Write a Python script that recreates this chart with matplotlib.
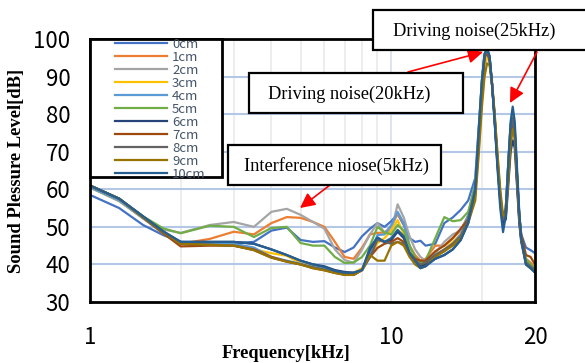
import matplotlib
matplotlib.use("Agg")
import matplotlib.pyplot as plt
from matplotlib.patches import Rectangle

freq = [1.0, 1.25, 1.5, 1.75, 2.0, 2.5, 3.0, 3.5, 4.0, 4.5, 5.0, 5.5, 6.0, 6.5, 7.0,
        7.5, 8.0, 8.5, 9.0, 9.5, 10.0, 10.5, 11.0, 11.5, 12.0, 12.5, 13.0, 14.0, 15.0, 16.0,
        17.0, 18.0, 19.0, 19.5, 20.0, 20.4, 20.8, 21.2, 21.6, 22.0, 22.5, 23.0, 23.5, 24.0, 24.5,
        24.9, 25.3, 25.7, 26.1, 26.6, 27.0, 28.0, 29.0, 30.0]

spl_0cm = [58.5, 55.0, 50.5, 47.8, 46.0, 45.5, 45.7, 46.0, 49.0, 49.8,
           46.5, 46.0, 46.2, 44.5, 43.3, 44.5, 47.5, 49.5, 51.0, 50.0,
           51.5, 53.4, 50.5, 47.0, 46.0, 46.3, 45.0, 45.5, 51.0, 52.5,
           54.5, 57.0, 63.0, 76.0, 89.0, 95.5, 97.0, 95.0, 88.0, 80.0,
           68.0, 58.0, 52.0, 55.0, 68.0, 77.0, 80.0, 76.0, 65.0, 53.0,
           48.0, 44.5, 43.8, 43.0]
spl_1cm = [60.5, 57.0, 52.3, 48.3, 45.5, 46.8, 48.7, 48.0, 51.0, 52.6,
           52.4, 51.3, 50.0, 46.0, 42.0, 41.5, 44.5, 48.0, 48.4, 48.5,
           50.0, 53.5, 51.0, 45.0, 42.5, 41.0, 41.5, 45.0, 45.0, 47.0,
           49.0, 53.0, 61.0, 74.0, 88.0, 95.5, 97.0, 95.5, 88.0, 79.0,
           67.0, 57.0, 51.0, 54.0, 66.0, 75.0, 78.0, 74.0, 63.0, 52.0,
           47.0, 41.5, 40.5, 39.0]
spl_2cm = [60.5, 56.8, 52.3, 49.3, 48.4, 50.5, 51.3, 50.0, 54.0, 54.8,
           53.2, 51.3, 49.5, 44.0, 41.2, 40.4, 44.0, 48.0, 51.0, 48.5,
           49.0, 56.0, 52.5, 47.5, 44.0, 42.0, 41.0, 43.0, 46.0, 48.0,
           49.0, 53.0, 60.0, 75.0, 89.0, 96.0, 97.5, 95.0, 88.0, 80.0,
           68.0, 58.0, 52.0, 55.0, 67.0, 76.0, 79.0, 75.0, 64.0, 52.0,
           47.0, 41.0, 40.0, 38.5]
spl_3cm = [60.5, 57.0, 52.3, 48.3, 45.6, 45.3, 45.0, 44.0, 43.0, 42.3,
           40.3, 39.5, 38.8, 38.0, 37.6, 37.8, 39.0, 42.0, 45.7, 47.0,
           49.0, 51.8, 48.0, 44.0, 41.0, 39.5, 40.0, 42.5, 44.0, 46.0,
           48.0, 52.0, 58.0, 70.0, 84.0, 92.0, 95.0, 94.5, 89.0, 81.0,
           70.0, 59.0, 52.0, 53.0, 64.0, 72.0, 76.0, 74.0, 65.0, 53.0,
           47.0, 40.5, 39.5, 38.5]
spl_4cm = [60.5, 57.0, 52.3, 48.3, 45.8, 45.5, 45.5, 44.5, 42.0, 41.0,
           40.2, 39.3, 38.8, 37.8, 37.3, 37.3, 38.5, 43.0, 47.8, 48.0,
           50.5, 54.0, 51.0, 45.0, 41.5, 40.0, 40.5, 42.5, 43.5, 45.5,
           48.0, 53.0, 62.0, 76.0, 89.0, 96.0, 97.0, 95.0, 88.0, 80.0,
           68.0, 58.0, 52.0, 55.0, 68.0, 77.0, 80.0, 76.0, 65.0, 53.0,
           47.0, 40.5, 39.5, 38.5]
spl_5cm = [61.0, 57.5, 52.8, 49.6, 48.3, 50.3, 50.0, 47.3, 49.7, 50.0,
           45.7, 45.0, 45.0, 42.0, 40.4, 40.5, 42.0, 45.0, 50.0, 48.5,
           48.0, 50.5, 49.0, 45.0, 42.0, 40.5, 41.0, 47.0, 52.6, 51.5,
           51.8, 54.0, 61.0, 75.0, 89.0, 96.0, 97.5, 95.0, 88.0, 80.0,
           68.0, 58.0, 52.0, 55.0, 68.0, 77.0, 80.0, 76.0, 65.0, 53.0,
           47.0, 41.5, 40.0, 39.0]
spl_6cm = [61.0, 57.5, 52.8, 48.8, 46.0, 46.0, 46.0, 45.5, 44.0, 42.5,
           41.0, 40.0, 39.5, 38.5, 38.0, 37.8, 38.5, 44.0, 47.0, 46.0,
           46.5, 48.7, 47.0, 43.0, 41.0, 39.5, 40.0, 41.5, 42.5, 44.0,
           46.5, 51.0, 59.0, 73.0, 87.0, 95.0, 96.5, 94.5, 88.0, 79.0,
           67.0, 57.0, 51.0, 52.0, 62.0, 70.0, 73.0, 71.0, 62.0, 51.0,
           46.0, 40.0, 39.0, 38.0]
spl_7cm = [61.0, 57.5, 52.5, 48.3, 44.8, 45.0, 45.0, 44.0, 42.0, 40.8,
           40.0, 39.0, 38.5, 37.8, 37.5, 37.3, 38.5, 42.0, 44.4, 45.5,
           46.0, 47.0, 46.0, 43.0, 41.5, 41.0, 41.0, 43.5, 45.0, 47.0,
           49.5, 52.0, 59.0, 73.0, 87.0, 95.0, 96.5, 94.5, 88.0, 80.0,
           68.0, 58.0, 52.0, 54.0, 64.0, 74.0, 77.0, 74.0, 64.0, 53.0,
           48.0, 42.5, 42.0, 40.0]
spl_8cm = [61.0, 57.5, 52.6, 48.6, 45.5, 45.3, 45.0, 43.8, 41.8, 40.8,
           40.0, 39.2, 38.6, 37.8, 37.3, 37.2, 38.5, 42.0, 46.5, 46.0,
           45.5, 46.0, 45.5, 43.0, 41.0, 40.0, 40.5, 42.5, 44.0, 45.5,
           47.5, 52.0, 60.0, 74.0, 88.0, 95.5, 97.0, 95.0, 88.0, 80.0,
           68.0, 58.0, 52.0, 55.0, 67.0, 76.0, 79.0, 75.0, 64.0, 52.0,
           46.5, 40.5, 39.5, 38.5]
spl_9cm = [61.0, 57.5, 52.6, 48.6, 45.5, 45.2, 45.0, 43.8, 41.8, 40.7,
           40.0, 39.0, 38.4, 37.7, 37.2, 37.2, 38.5, 42.5, 41.0, 41.0,
           45.0, 46.0, 45.0, 42.0, 40.0, 39.0, 39.5, 42.0, 43.5, 45.0,
           47.0, 51.0, 57.0, 69.0, 82.0, 90.0, 93.5, 93.0, 88.0, 81.0,
           70.0, 60.0, 53.0, 53.0, 63.0, 72.0, 76.0, 74.0, 65.0, 53.0,
           47.0, 40.0, 39.0, 38.0]
spl_10cm = [61.0, 57.5, 52.8, 48.8, 46.0, 46.0, 46.0, 45.5, 44.0, 42.5,
            41.0, 40.0, 39.3, 38.3, 37.8, 37.8, 38.5, 44.5, 47.2, 46.0,
            47.0, 49.2, 47.5, 43.0, 41.0, 39.0, 39.5, 41.5, 42.5, 44.0,
            46.5, 51.0, 60.0, 75.0, 89.0, 96.0, 97.5, 95.5, 88.0, 79.0,
            66.0, 55.0, 48.6, 53.0, 68.0, 78.0, 82.0, 78.0, 67.0, 54.0,
            47.0, 40.0, 39.0, 37.8]

labels = ["0cm", "1cm", "2cm", "3cm", "4cm", "5cm", "6cm", "7cm", "8cm", "9cm", "10cm"]
series = [spl_0cm, spl_1cm, spl_2cm, spl_3cm, spl_4cm, spl_5cm, spl_6cm, spl_7cm,
          spl_8cm, spl_9cm, spl_10cm]
colors = ["#4472C4", "#ED7D31", "#A5A5A5", "#FFC000", "#5B9BD5", "#70AD47",
          "#264478", "#9E480E", "#636363", "#997300", "#255E91"]

y_ticks = [30, 40, 50, 60, 70, 80, 90, 100]
x_ticks = [1, 10, 30]
x_tick_labels = ["1", "10", "20"]

W, H = 585, 363
fig = plt.figure(figsize=(W / 100, H / 100), dpi=100)
L, R, T, B = 90, 535, 39, 302
ax = fig.add_axes([L / W, 1 - B / H, (R - L) / W, (B - T) / H])


def fx(px):
    return px / W


def fy(py):
    return 1 - py / H


for v in [2, 3, 4, 5, 6, 7, 8, 9, 20]:
    ax.axvline(v, color="#ececec", lw=1.3, zorder=0)
ax.axvline(10, color="#d9e1f2", lw=1.3, zorder=0)
for v in [40, 50, 60, 70, 80, 90]:
    ax.axhline(v, color="#b4c7e7", lw=1.5, zorder=0)

handles = []
for lab, vals, c in zip(labels, series, colors):
    h, = ax.plot(freq, vals, color=c, lw=1.6, label=lab, solid_joinstyle="round")
    handles.append(h)

ax.set_xscale("log")
ax.set_xlim(1, 30)
ax.set_ylim(30, 100)
ax.set_xticks(x_ticks)
ax.set_xticklabels(x_tick_labels)
ax.xaxis.set_minor_locator(matplotlib.ticker.NullLocator())
ax.set_yticks(y_ticks)
ax.tick_params(axis="both", length=0, labelsize=16)
ax.tick_params(axis="y", pad=14)
ax.tick_params(axis="x", pad=17)
for t in ax.get_xticklabels() + ax.get_yticklabels():
    t.set_fontfamily(["Noto Sans CJK JP", "DejaVu Sans"])
for s in ax.spines.values():
    s.set_linewidth(2.0)
    s.set_color("black")

ax.set_ylabel("Sound Plessure Level[dB]", fontfamily="Liberation Serif",
              fontweight="bold", fontsize=13.4)
ax.yaxis.set_label_coords(-(L - 25) / (R - L), 0.5)
ax.set_xlabel("Frequency[kHz]", fontfamily="Liberation Serif",
              fontweight="bold", fontsize=13.2)
ax.xaxis.set_label_coords((286 - L) / (R - L), -(353 - B) / (B - T))
ax.xaxis.label.set_va("center")

# legend frame and legend
ax.add_patch(Rectangle((fx(90), fy(177)), fx(222) - fx(90), fy(39) - fy(177),
                       transform=fig.transFigure, facecolor="white",
                       edgecolor="black", lw=2.0, zorder=4, clip_on=False))
leg = ax.legend(handles=handles, loc="upper left",
                bbox_to_anchor=(fx(115), fy(38)), bbox_transform=fig.transFigure,
                frameon=False, labelspacing=0.0, handlelength=3.95,
                handletextpad=0.38, borderpad=0, borderaxespad=0,
                prop={"family": ["Noto Sans CJK JP", "DejaVu Sans"], "size": 9.5})
leg.set_zorder(5)
for t in leg.get_texts():
    t.set_color("#44546a")

# annotation boxes
boxes = [
    ("Driving noise(25kHz)", 373, 10, 600, 50, 474),
    ("Driving noise(20kHz)", 249, 73, 463, 113, 349),
    ("Interference niose(5kHz)", 228, 145, 441, 185, 336),
]
for txt, x0, y0, x1, y1, xc in boxes:
    fig.add_artist(Rectangle((fx(x0), fy(y1)), fx(x1) - fx(x0), fy(y0) - fy(y1),
                             transform=fig.transFigure, facecolor="white",
                             edgecolor="black", lw=1.6, zorder=6))
    fig.text(fx(xc), fy((y0 + y1) / 2 + 1), txt, ha="center", va="center",
             fontfamily="Liberation Serif", fontsize=13.2, zorder=7)

arrows = [((408, 72), (483, 52)), ((537, 52), (510, 103)), ((330, 185), (300, 208))]
for (sx, sy), (ex, ey) in arrows:
    ax.annotate("", xy=(fx(ex), fy(ey)), xytext=(fx(sx), fy(sy)),
                xycoords="figure fraction", textcoords="figure fraction",
                arrowprops=dict(arrowstyle="-|>,head_length=0.9,head_width=0.45",
                                color="red", lw=1.2, shrinkA=0, shrinkB=0),
                annotation_clip=False, zorder=8)

fig.savefig("out.png", dpi=100)
